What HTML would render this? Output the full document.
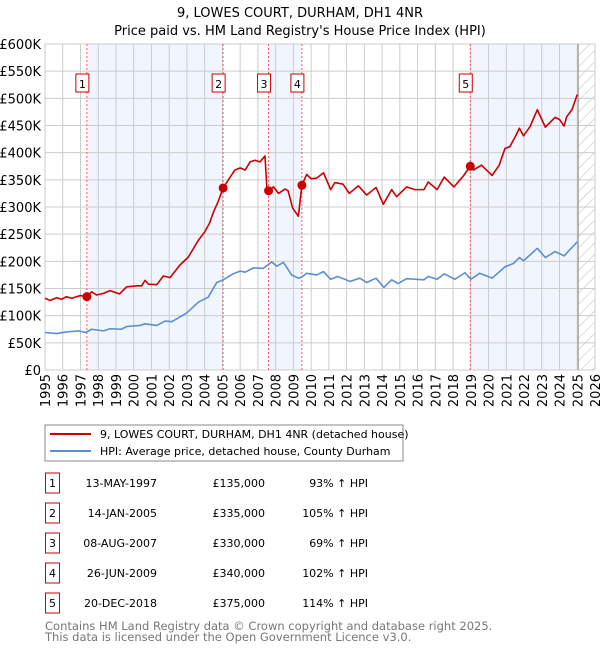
<!DOCTYPE html>
<html><head><meta charset="utf-8"><style>
body{margin:0;background:#fff;}
svg{display:block;font-family:"DejaVu Sans","Liberation Sans",sans-serif;}
</style></head><body>
<svg id="c" width="600" height="650" viewBox="0 0 600 650">
<text x="300" y="17" text-anchor="middle" font-size="13">9, LOWES COURT, DURHAM, DH1 4NR</text>
<text x="300" y="35" text-anchor="middle" font-size="13">Price paid vs. HM Land Registry's House Price Index (HPI)</text>
<defs><pattern id="hatch" width="8" height="8" patternUnits="userSpaceOnUse" patternTransform="rotate(45)"><line x1="0" y1="0" x2="0" y2="8" stroke="#bbb" stroke-width="1"/></pattern></defs>
<g id="bands"></g><g id="grid"></g><g id="series"></g><g id="marks"></g>
<g>
<rect x="45" y="425" width="358" height="36" fill="#fff" stroke="#888" stroke-width="1"/>
<line x1="50" y1="434" x2="91" y2="434" stroke="#cc0000" stroke-width="2"/>
<text x="100" y="438" font-size="11">9, LOWES COURT, DURHAM, DH1 4NR (detached house)</text>
<line x1="50" y1="451" x2="91" y2="451" stroke="#5b8fd0" stroke-width="2"/>
<text x="100" y="455" font-size="11">HPI: Average price, detached house, County Durham</text>
</g>
<g id="table" font-size="11"></g>
<text x="45" y="630" font-size="11.5" fill="#777">Contains HM Land Registry data © Crown copyright and database right 2025.</text>
<text x="45" y="641" font-size="11.5" fill="#777">This data is licensed under the Open Government Licence v3.0.</text>
</svg>
<script>
const redYears=[1995,1995.28,1995.66,1995.94,1996.2,1996.5,1997,1997.36,1997.63,1997.9,1998.3,1998.66,1999.2,1999.6,2000.2,2000.45,2000.64,2000.83,2001.3,2001.67,2002.05,2002.6,2003.08,2003.65,2004,2004.27,2004.5,2004.77,2005.04,2005.34,2005.7,2006,2006.28,2006.56,2006.84,2007.12,2007.4,2007.5,2007.6,2007.88,2008.16,2008.53,2008.7,2008.96,2009.28,2009.48,2009.75,2010,2010.3,2010.7,2011.1,2011.34,2011.8,2012.15,2012.66,2013.13,2013.66,2014.07,2014.54,2014.82,2015.38,2015.85,2016.36,2016.6,2017.1,2017.5,2018.05,2018.6,2018.97,2019.15,2019.6,2020.2,2020.6,2020.93,2021.2,2021.5,2021.74,2021.97,2022.34,2022.75,2023.2,2023.75,2024,2024.26,2024.4,2024.7,2025];
const redValues=[132,128,133,130,135,132,137,135,144,138,141,146,140,153,155,155,165,158,157,173,170,193,208,239,254,270,291,311,335,350,368,372,368,383,386,383,394,337,330,337,325,333,330,298,283,340,360,352,353,363,332,345,342,325,339,322,336,305,332,319,337,332,332,346,332,355,337,358,375,368,377,358,377,408,411,429,445,431,448,479,447,465,461,449,466,479,507];
const hpiYears=[1995,1995.66,1996.2,1996.9,1997.3,1997.63,1998.3,1998.66,1999.3,1999.6,2000.36,2000.64,2001.3,2001.77,2002.15,2002.99,2003.65,2004.2,2004.68,2005.05,2005.6,2006,2006.28,2006.75,2007.3,2007.78,2008.06,2008.44,2008.9,2009.28,2009.47,2009.75,2010.3,2010.7,2011.1,2011.5,2012.2,2012.75,2013.13,2013.66,2014.1,2014.54,2014.9,2015.38,2016.36,2016.6,2017.1,2017.5,2018.1,2018.67,2019,2019.5,2020.2,2020.93,2021.4,2021.74,2021.97,2022.75,2023.2,2023.75,2024.26,2025];
const hpiValues=[69,67,70,72,69,75,72,76,75,80,82,85,82,90,89,105,125,134,161,166,177,182,180,188,187,199,191,198,175,169,171,178,175,181,167,172,163,169,161,169,152,166,159,168,166,172,167,177,167,179,167,178,169,190,196,207,201,224,207,218,210,236];
const saleYears=[1997.36,2005.04,2007.6,2009.48,2018.97];
const salePrices=[135,335,330,340,375];
const saleDates=["13-MAY-1997","14-JAN-2005","08-AUG-2007","26-JUN-2009","20-DEC-2018"];
const salePriceLabels=["£135,000","£335,000","£330,000","£340,000","£375,000"];
const salePct=["93% ↑ HPI","105% ↑ HPI","69% ↑ HPI","102% ↑ HPI","114% ↑ HPI"];
const yTicks=[0,50,100,150,200,250,300,350,400,450,500,550,600];
const yTickLabels=["£0","£50K","£100K","£150K","£200K","£250K","£300K","£350K","£400K","£450K","£500K","£550K","£600K"];
const xTicks=[1995,1996,1997,1998,1999,2000,2001,2002,2003,2004,2005,2006,2007,2008,2009,2010,2011,2012,2013,2014,2015,2016,2017,2018,2019,2020,2021,2022,2023,2024,2025,2026];
const dataEnd=2025.05;

const L=45,R=595,T=44,B=370;
const X=y=>L+(y-1995)/31*(R-L);
const Y=v=>B-v/600*(B-T);
const NS="http://www.w3.org/2000/svg";
function mk(tag,attrs,parent,txt){const e=document.createElementNS(NS,tag);for(const k in attrs)e.setAttribute(k,attrs[k]);if(txt!==undefined)e.textContent=txt;parent.appendChild(e);return e;}
const bands=document.getElementById('bands'),grid=document.getElementById('grid'),series=document.getElementById('series'),marks=document.getElementById('marks'),table=document.getElementById('table');
// shaded bands
const bandEdges=[[saleYears[0],saleYears[1]],[saleYears[2],saleYears[3]],[saleYears[4],dataEnd]];
bandEdges.forEach((b,i)=>{const r=mk('rect',{x:X(b[0]),y:T,width:X(b[1])-X(b[0]),height:B-T,fill:'#eef3fc',opacity:0.8},bands);

});
const h=mk('rect',{x:X(dataEnd),y:T,width:R-X(dataEnd),height:B-T,fill:'url(#hatch)'},bands);


// grid
yTicks.forEach((v,i)=>{mk('line',{x1:L,x2:R,y1:Y(v),y2:Y(v),stroke:'#ccc','stroke-width':1},grid);
const t=mk('text',{x:L-4,y:Y(v)+5,'text-anchor':'end','font-size':13},grid,yTickLabels[i]);

});
xTicks.forEach(yr=>{mk('line',{x1:X(yr),x2:X(yr),y1:T,y2:B,stroke:'#ccc','stroke-width':1},grid);
const t=mk('text',{x:0,y:0,'text-anchor':'end','font-size':13,transform:`translate(${X(yr)+5},${B+4}) rotate(-90)`},grid,String(yr));

});
mk('line',{x1:X(dataEnd),x2:X(dataEnd),y1:T,y2:B,stroke:'#888','stroke-width':1},grid);
// sale lines + boxes
saleYears.forEach((yr,i)=>{mk('line',{x1:X(yr),x2:X(yr),y1:T,y2:B,stroke:'#f06060','stroke-width':1,'stroke-dasharray':'2,2'},grid);
const g=mk('g',{},grid);


mk('rect',{x:X(yr)-11,y:74,width:13,height:18,fill:'#fff',stroke:'#cc0000','stroke-width':1},g);
mk('text',{x:X(yr)-4.5,y:88,'text-anchor':'middle','font-size':11},g,String(i+1));});
// series
function line(xs,vs,color,name){const p=mk('polyline',{points:xs.map((x,i)=>X(x)+','+Y(vs[i])).join(' '),fill:'none',stroke:color,'stroke-width':1.6,'stroke-linejoin':'round'},series);

}
line(hpiYears,hpiValues,'#5b8fd0','hpi-line');
line(redYears,redValues,'#cc0000','price-paid-line');
saleYears.forEach((yr,i)=>{const c=mk('circle',{cx:X(yr),cy:Y(salePrices[i]),r:4.5,fill:'#cc0000'},marks);

});
// table
saleDates.forEach((d,i)=>{const cy=483+i*30;const g=mk('g',{},table);


mk('rect',{x:45.5,y:cy-10,width:14,height:20,fill:'#fff',stroke:'#cc0000','stroke-width':1},g);
mk('text',{x:52.5,y:cy+4,'text-anchor':'middle'},g,String(i+1));
mk('text',{x:157,y:cy+4,'text-anchor':'end'},g,d);
mk('text',{x:265,y:cy+4,'text-anchor':'end'},g,salePriceLabels[i]);
mk('text',{x:368,y:cy+4,'text-anchor':'end'},g,salePct[i]);});
</script>
</body></html>
